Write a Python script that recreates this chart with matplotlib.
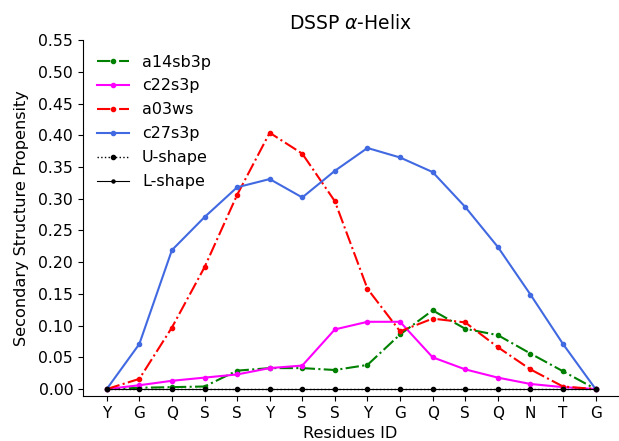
import matplotlib
matplotlib.use("Agg")
import matplotlib.pyplot as plt
import numpy as np

residues = ["Y", "G", "Q", "S", "S", "Y", "S", "S", "Y", "G", "Q", "S", "Q", "N", "T", "G"]
a14sb3p = [0.0, 0.002, 0.003, 0.004, 0.029, 0.033, 0.033, 0.030, 0.038, 0.086, 0.124, 0.095, 0.085, 0.056, 0.028, 0.0]
c22s3p = [0.0, 0.006, 0.013, 0.018, 0.023, 0.033, 0.037, 0.094, 0.106, 0.106, 0.050, 0.031, 0.018, 0.008, 0.003, 0.0]
a03ws = [0.0, 0.016, 0.097, 0.192, 0.306, 0.404, 0.371, 0.296, 0.158, 0.091, 0.111, 0.105, 0.066, 0.031, 0.004, 0.0]
c27s3p = [0.0, 0.071, 0.219, 0.271, 0.318, 0.331, 0.302, 0.344, 0.380, 0.365, 0.342, 0.287, 0.224, 0.149, 0.071, 0.0]
u_shape = [0.0] * 16
l_shape = [0.0] * 16

fig = plt.figure(figsize=(6.19, 4.41), dpi=100)
ax = fig.add_axes([0.134, 0.102, 0.864, 0.807])
x = np.arange(len(residues))
ms = 3.0
lw = 1.5
ax.plot(x, a14sb3p, color="green", linestyle="-.", marker="o", markersize=ms, linewidth=lw, label="a14sb3p")
ax.plot(x, c22s3p, color="magenta", linestyle="-", marker="o", markersize=ms, linewidth=lw, label="c22s3p")
ax.plot(x, a03ws, color="red", linestyle="-.", marker="o", markersize=ms, linewidth=lw, label="a03ws")
ax.plot(x, c27s3p, color="royalblue", linestyle="-", marker="o", markersize=ms, linewidth=lw, label="c27s3p")
ax.plot(x, u_shape, color="black", linestyle=":", marker="o", markersize=ms, linewidth=1.0, label="U-shape")
ax.plot(x, l_shape, color="black", linestyle="-", marker="o", markersize=2.2, linewidth=0.8, label="L-shape")

ax.set_xticks(x)
ax.set_xticklabels(residues, fontsize=11)
ax.set_yticks(np.arange(0, 0.5501, 0.05))
ax.set_yticklabels([f"{v:.2f}" for v in np.arange(0, 0.5501, 0.05)], fontsize=11.3)
ax.set_ylim(-0.011, 0.55)
ax.set_xlim(-0.73, 15.68)
ax.spines["top"].set_visible(False)
ax.spines["right"].set_visible(False)
ax.set_xlabel("Residues ID", fontsize=11.6)
ax.set_ylabel("Secondary Structure Propensity", fontsize=11.6, labelpad=7)
ax.set_title(r"DSSP $\alpha$-Helix", fontsize=13.5, pad=8)
ax.legend(loc="upper left", frameon=False, fontsize=11.5, labelspacing=0.56)

fig.savefig("out.png", dpi=100)
